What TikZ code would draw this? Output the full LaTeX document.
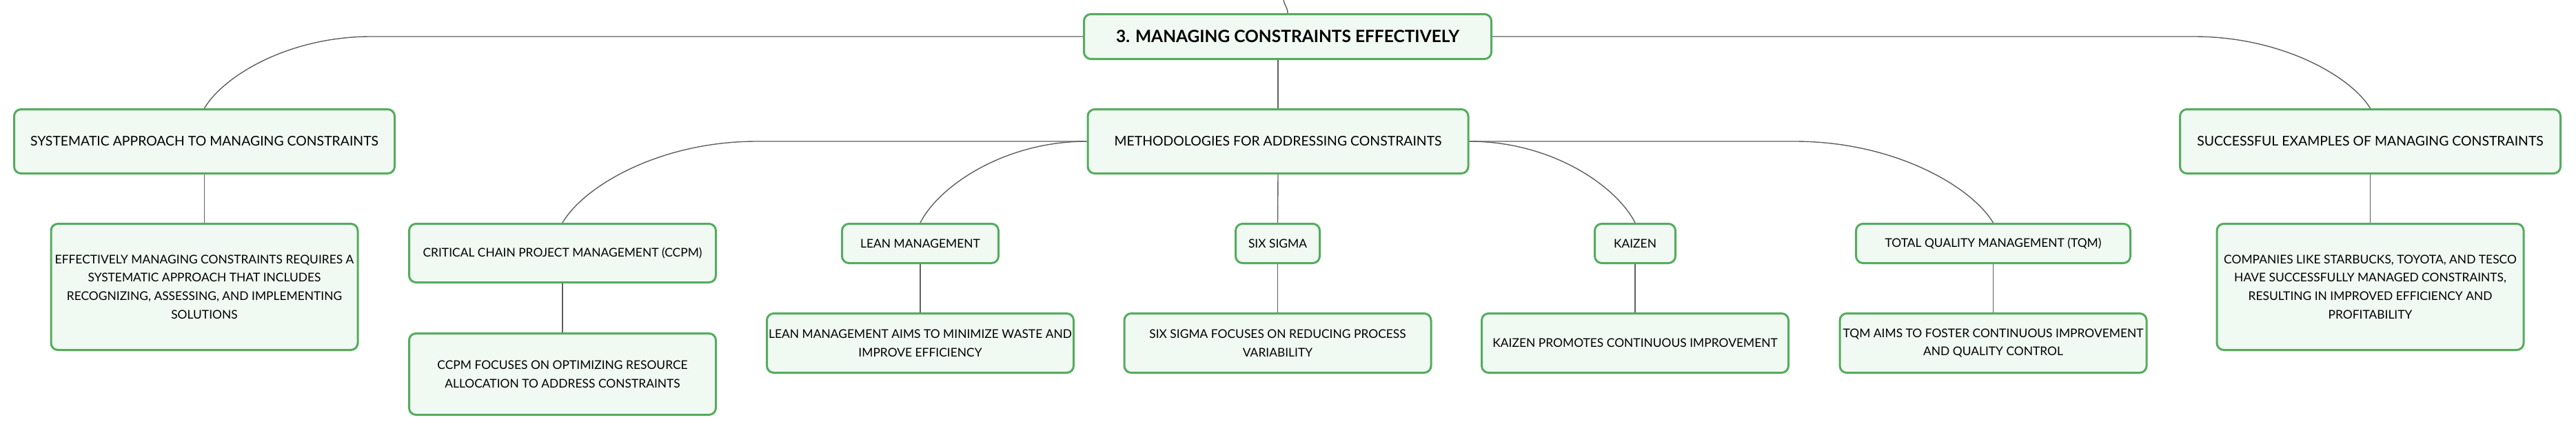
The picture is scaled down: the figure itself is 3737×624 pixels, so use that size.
\documentclass[tikz,border=0pt]{standalone}
\usepackage{fontspec}
\setmainfont{Lato}
\usetikzlibrary{
positioning
}
\definecolor{mapgreen}{RGB}{84,172,94}
\definecolor{mapfill}{RGB}{241,249,243}
\definecolor{mapline}{RGB}{95,95,95}

\begin{document}
\begin{tikzpicture}[
    x=1pt, y=-1pt,
    node distance=70pt,
    base/.style={draw=mapgreen, fill=mapfill, line width=3pt, rounded corners=10pt, align=center, inner xsep=2pt, inner ysep=4pt},
    central/.style={base, font=\fontsize{24.5}{28}\selectfont\bfseries, minimum width=591pt, minimum height=65pt},
    topic/.style={base, font=\fontsize{19.4}{23}\selectfont, minimum width=552pt, minimum height=93pt},
    method/.style={base, font=\fontsize{17.4}{26.7}\selectfont, minimum height=57pt},
    detail/.style={base, font=\fontsize{17.4}{26.7}\selectfont, minimum width=445pt, minimum height=86pt},
    link/.style={draw=mapline, line width=1.4pt}]
  \useasboundingbox (0,0) rectangle (3737,624);
  \node[central] (root) at (1868,53) {3. MANAGING CONSTRAINTS EFFECTIVELY};
  \node[topic] (approach) at (296.5,205) {SYSTEMATIC APPROACH TO MANAGING CONSTRAINTS};
  \node[topic] (methods) at (1854,205) {METHODOLOGIES FOR ADDRESSING CONSTRAINTS};
  \node[topic] (examples) at (3438.5,205) {SUCCESSFUL EXAMPLES OF MANAGING CONSTRAINTS};
  \node[detail, minimum height=183pt, below=of approach] (approachtxt) {EFFECTIVELY MANAGING CONSTRAINTS REQUIRES A\\SYSTEMATIC APPROACH THAT INCLUDES\\RECOGNIZING, ASSESSING, AND IMPLEMENTING\\SOLUTIONS};
  \node[detail, minimum height=183pt, below=of examples] (examplestxt) {COMPANIES LIKE STARBUCKS, TOYOTA, AND TESCO\\HAVE SUCCESSFULLY MANAGED CONSTRAINTS,\\RESULTING IN IMPROVED EFFICIENCY AND\\PROFITABILITY};
  \node[method, minimum width=445pt, minimum height=85pt] (ccpm) at (816,367) {CRITICAL CHAIN PROJECT MANAGEMENT (CCPM)};
  \node[method, minimum width=227pt] (lean) at (1335,353) {LEAN MANAGEMENT};
  \node[method, minimum width=122pt] (sixsigma) at (1853.5,353) {SIX SIGMA};
  \node[method, minimum width=117pt] (kaizen) at (2372,353) {KAIZEN};
  \node[method, minimum width=398pt] (tqm) at (2891.5,353) {TOTAL QUALITY MANAGEMENT (TQM)};
  \node[detail, minimum height=118pt, below=71pt of ccpm] (ccpmtxt) {CCPM FOCUSES ON OPTIMIZING RESOURCE\\ALLOCATION TO ADDRESS CONSTRAINTS};
  \node[detail, below=of lean] (leantxt) {LEAN MANAGEMENT AIMS TO MINIMIZE WASTE AND\\IMPROVE EFFICIENCY};
  \node[detail, below=of sixsigma] (sixsigmatxt) {SIX SIGMA FOCUSES ON REDUCING PROCESS\\VARIABILITY};
  \node[detail, below=of kaizen] (kaizentxt) {KAIZEN PROMOTES CONTINUOUS IMPROVEMENT};
  \node[detail, below=of tqm] (tqmtxt) {TQM AIMS TO FOSTER CONTINUOUS IMPROVEMENT\\AND QUALITY CONTROL};
  \coordinate (rootin) at (1862,0);
  \draw[link] (rootin) .. controls +(2,9) and +(0,-8) .. (root.north);
  \draw[link] (root.west) -- ([xshift=242pt]approach.north |- root.west) .. controls +(-121,0) and +(27,-46) .. (approach.north);
  \draw[link] (root.south -| methods.north) -- (methods.north);
  \draw[link] (root.east) -- ([xshift=-256pt]examples.north |- root.east) .. controls +(128,0) and +(-28,-46) .. (examples.north);
  \draw[link] (methods.west) -- ([xshift=282pt]ccpm.north |- methods.west) .. controls +(-141,0) and +(31,-53) .. (ccpm.north);
  \draw[link] (methods.west) .. controls +(-120,0) and +(27,-53) .. (lean.north);
  \draw[link] (methods.south) -- (sixsigma.north);
  \draw[link] (methods.east) .. controls +(120,0) and +(-27,-53) .. (kaizen.north);
  \draw[link] (methods.east) -- ([xshift=-288pt]tqm.north |- methods.east) .. controls +(144,0) and +(-32,-53) .. (tqm.north);
  \foreach \n in {approach, examples, ccpm, lean, sixsigma, kaizen, tqm}
    \draw[link] (\n) -- (\n txt);
\end{tikzpicture}
\end{document}
